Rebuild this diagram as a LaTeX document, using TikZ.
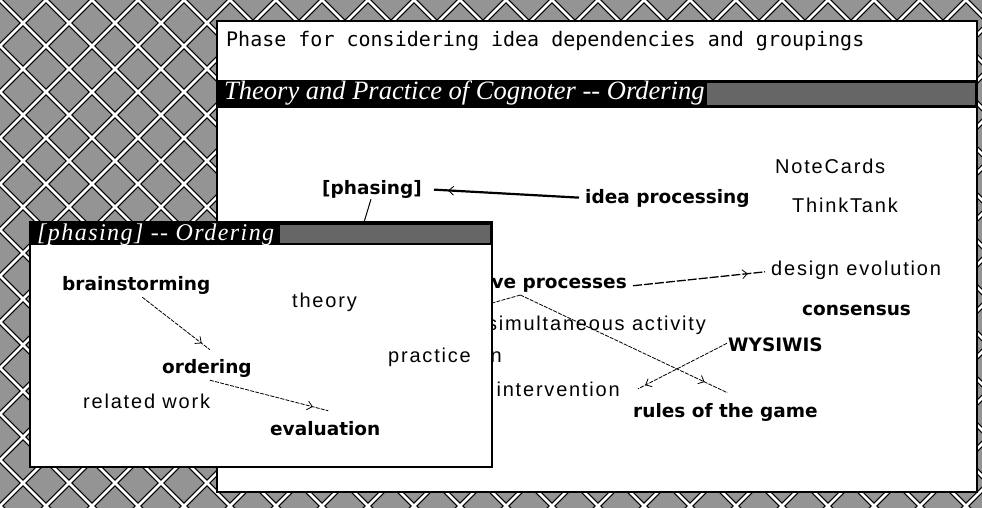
\documentclass[tikz,border=0pt]{standalone}
\usepackage{fontspec}
\usetikzlibrary{arrows.meta,decorations.markings,calc}
\newfontfamily\monofnt{DejaVu Sans Mono}
\newfontfamily\boldfnt{DejaVu Sans}
\newfontfamily\thinfnt{Liberation Sans}[LetterSpace=9]
\newfontfamily\titlefnt{Liberation Serif}
\newfontfamily\subtitlefnt{Liberation Serif}[LetterSpace=6]
\tikzset{
  boldlab/.style={font=\boldfnt\bfseries\fontsize{18.5}{20}\selectfont, inner sep=0pt, anchor=base west},
  thinlab/.style={font=\thinfnt\fontsize{20}{22}\selectfont, inner sep=0pt, anchor=base west},
  ttl/.style={font=\titlefnt\itshape\fontsize{26.5}{28}\selectfont, text=white, inner sep=0pt, anchor=base west},
  subttl/.style={font=\subtitlefnt\itshape\fontsize{24}{26}\selectfont, text=white, inner sep=0pt, anchor=base west},
  monolab/.style={font=\monofnt\fontsize{20}{22}\selectfont, inner sep=0pt, anchor=base west},
  link/.style={line width=0.8pt, dash pattern=on 4pt off 1.2pt},
  arrowat/.style={postaction={decorate}, decoration={markings, mark=at position #1 with {\arrow{Straight Barb[length=5pt,width=9pt,line width=0.8pt]}}}},
  winframe/.style={line width=2.5pt, draw=black, fill=white},
  barpat/.style={fill=black!60},
}
\begin{document}
\begin{tikzpicture}[x=1pt,y=-1pt]
\useasboundingbox (0,0) rectangle (982,508);
% background lattice
\begin{scope}
  \clip (0,0) rectangle (982,508);
  \fill[black!42] (0,0) rectangle (982,508);
  \foreach \c in {-506,-460,...,1000} {\draw[black, line width=5pt] (\c,0) -- ++(520,520);}
  \foreach \c in {0,46,...,1520} {\draw[black, line width=5pt] (\c,0) -- ++(-520,520);}
  \foreach \c in {-506,-460,...,1000} {\draw[white, line width=2.8pt] (\c,0) -- ++(520,520);}
  \foreach \c in {0,46,...,1520} {\draw[white, line width=2.8pt] (\c,0) -- ++(-520,520);}
\end{scope}
% main window
\draw[winframe] (217,21) rectangle (977,492);
\fill[black] (217,80) rectangle (977,108);
\fill[barpat] (707,83) rectangle (975,105);
\node[monolab] (prompt) at (226,47) {Phase for considering idea dependencies and groupings};
\node[ttl] (title) at (224,100) {Theory and Practice of Cognoter -{}- Ordering};
% main content
\node[boldlab] (ph) at (322,194) {[phasing]};
\node[boldlab] (ip) at (585,203) {idea processing};
\node[thinlab] (nc) at (775,173) {NoteCards};
\node[thinlab] (tt) at (792,212) {ThinkTank};
\node[boldlab, anchor=base east] (vp) at (627,288) {ve processes};
\node[thinlab] (de) at (771,275) {design evolution};
\node[boldlab] (co) at (802,315) {consensus};
\node[thinlab, anchor=base east] (sa) at (706,330) {simultaneous activity};
\node[thinlab, anchor=base east] (nfrag) at (502,362) {n};
\node[boldlab] (wy) at (728,351) {WYSIWIS};
\node[thinlab, anchor=base east] (iv) at (620,396) {intervention};
\node[boldlab] (rg) at (633,417) {rules of the game};
\coordinate (hidA) at (352,262);
\coordinate (hidB) at (460,312);
\draw[line width=2.2pt, arrowat=0.84, shorten <=6pt, shorten >=12pt] (ip.west) -- (ph.east);
\draw[line width=1pt] ($(ph.south)+(-1,1)$) -- (hidA);
\draw[line width=1.3pt, dash pattern=on 9pt off 2pt, arrowat=0.87] ($(vp.east)+(6,1)$) -- ($(de.west)+(-6,2)$);
\draw[link, arrowat=0.89] ($(vp.south west)+(29,3)$) -- ($(rg.north)+(2,-10)$);
\draw[link] ($(vp.south west)+(29,3)$) -- (hidB);
\draw[link, arrowat=0.92] ($(wy.west)+(-1,-1)$) -- ($(iv.east)+(18,0)$);
% inner window
\draw[winframe] (30,222) rectangle (492,467);
\fill[black] (30,222) rectangle (492,245);
\fill[barpat] (280,225) rectangle (490,243);
\node[subttl] (subtitle) at (37,240) {[phasing] -{}- Ordering};
\node[boldlab] (bs) at (62,290) {brainstorming};
\node[thinlab] (th) at (292,307) {theory};
\node[boldlab] (ord) at (162,373) {ordering};
\node[thinlab] (pr) at (388,362) {practice};
\node[thinlab] (rw) at (83,408) {related work};
\node[boldlab] (ev) at (270,435) {evaluation};
\draw[link, arrowat=0.88] ($(bs.south)+(6,3)$) -- ($(ord.north)+(3,-9)$);
\draw[link, arrowat=0.87] ($(ord.south)+(3,3)$) -- ($(ev.north)+(3,-10)$);
\end{tikzpicture}
\end{document}
